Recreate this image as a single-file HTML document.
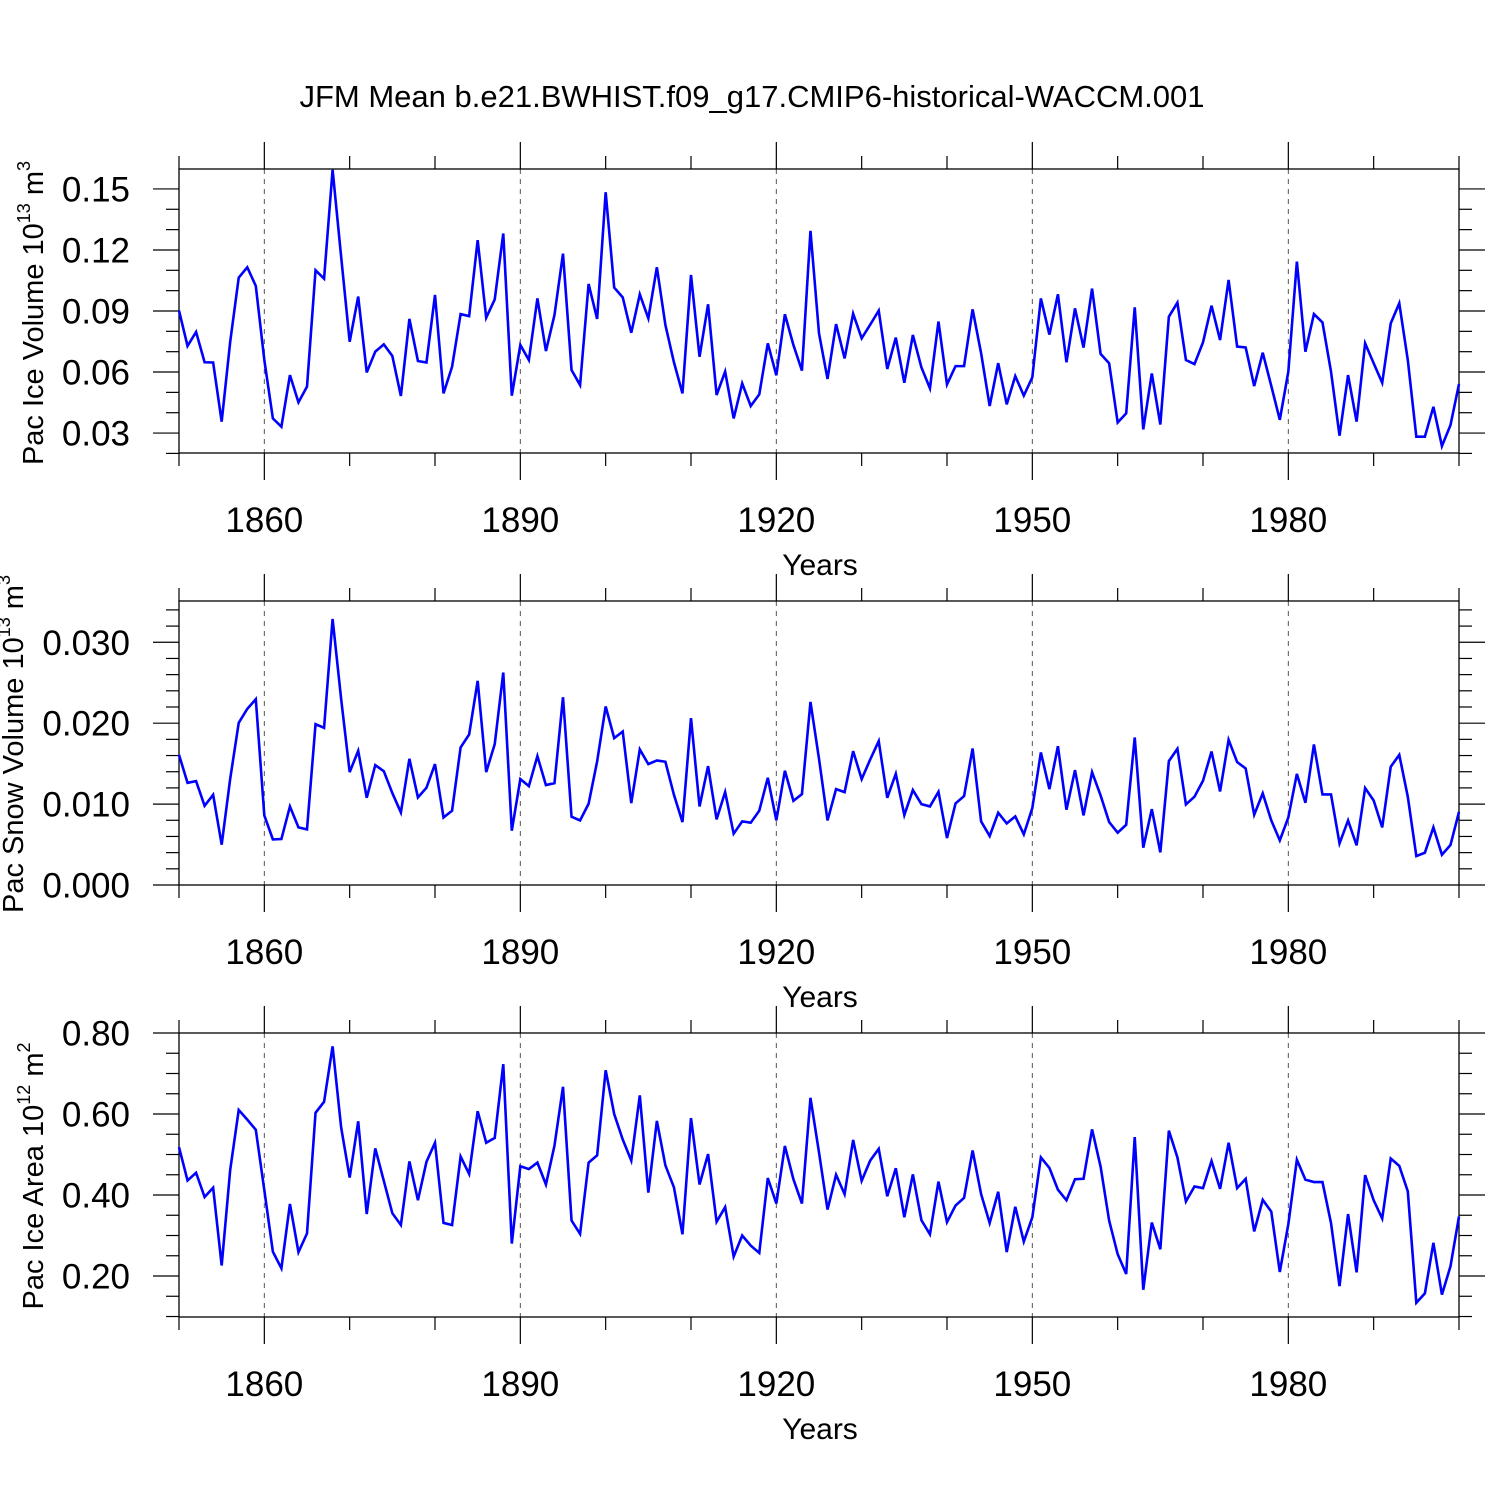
<!DOCTYPE html>
<html><head><meta charset="utf-8"><style>
html,body{margin:0;padding:0;background:#fff;}
svg{display:block;font-family:"Liberation Sans",Arial,sans-serif;}
</style></head><body>
<svg id="chart" width="1500" height="1500" xmlns="http://www.w3.org/2000/svg">
<rect width="1500" height="1500" fill="#fff"/>
<text x="752" y="107" font-size="31" text-anchor="middle">JFM Mean b.e21.BWHIST.f09_g17.CMIP6-historical-WACCM.001</text>
</svg>
<script>
const startYear = 1850;
const xTickLabels = ["1860","1890","1920","1950","1980"];
const iceVolume = [0.0902,0.0728,0.0797,0.0648,0.0647,0.0356,0.0749,0.1064,0.1115,0.1023,0.0659,0.0372,0.0331,0.0585,0.0451,0.0528,0.1100,0.1059,0.1594,0.1167,0.0749,0.0971,0.0598,0.0700,0.0736,0.0679,0.0482,0.0861,0.0654,0.0647,0.0979,0.0495,0.0626,0.0885,0.0875,0.1248,0.0867,0.0957,0.1281,0.0484,0.0733,0.0659,0.0962,0.0703,0.0880,0.1182,0.0610,0.0536,0.1033,0.0861,0.1484,0.1015,0.0967,0.0793,0.0982,0.0864,0.1115,0.0831,0.0648,0.0495,0.1077,0.0675,0.0933,0.0487,0.0602,0.0372,0.0544,0.0433,0.0490,0.0741,0.0584,0.0884,0.0733,0.0607,0.1294,0.0790,0.0566,0.0836,0.0667,0.0887,0.0766,0.0833,0.0902,0.0615,0.0769,0.0547,0.0782,0.0623,0.0520,0.0848,0.0539,0.0629,0.0629,0.0908,0.0692,0.0433,0.0644,0.0441,0.0580,0.0484,0.0574,0.0962,0.0784,0.0982,0.0648,0.0913,0.0720,0.1010,0.0689,0.0643,0.0352,0.0397,0.0918,0.0318,0.0593,0.0342,0.0872,0.0941,0.0659,0.0639,0.0746,0.0926,0.0757,0.1053,0.0725,0.0721,0.0531,0.0695,0.0532,0.0365,0.0602,0.1143,0.0700,0.0885,0.0844,0.0602,0.0287,0.0585,0.0356,0.0741,0.0643,0.0547,0.0839,0.0938,0.0659,0.0282,0.0282,0.0429,0.0236,0.0339,0.0541];
const snowVolume = [0.01609,0.01263,0.01284,0.00979,0.01115,0.00498,0.01313,0.02004,0.02177,0.02296,0.00860,0.00564,0.00568,0.00971,0.00712,0.00687,0.01988,0.01942,0.03288,0.02300,0.01395,0.01658,0.01078,0.01481,0.01407,0.01136,0.00897,0.01560,0.01082,0.01202,0.01494,0.00835,0.00918,0.01700,0.01860,0.02523,0.01395,0.01741,0.02626,0.00671,0.01309,0.01222,0.01593,0.01235,0.01259,0.02321,0.00844,0.00798,0.01004,0.01527,0.02206,0.01815,0.01897,0.01012,0.01675,0.01494,0.01539,0.01523,0.01115,0.00778,0.02062,0.00971,0.01469,0.00811,0.01148,0.00634,0.00786,0.00770,0.00918,0.01325,0.00798,0.01412,0.01041,0.01123,0.02263,0.01560,0.00798,0.01185,0.01148,0.01654,0.01309,0.01551,0.01778,0.01078,0.01374,0.00864,0.01173,0.01000,0.00971,0.01152,0.00580,0.01008,0.01099,0.01687,0.00786,0.00605,0.00893,0.00761,0.00848,0.00626,0.00951,0.01638,0.01185,0.01716,0.00930,0.01420,0.00860,0.01395,0.01107,0.00778,0.00646,0.00745,0.01823,0.00461,0.00938,0.00403,0.01531,0.01683,0.00996,0.01091,0.01288,0.01650,0.01156,0.01794,0.01519,0.01440,0.00868,0.01132,0.00798,0.00551,0.00835,0.01374,0.01016,0.01737,0.01119,0.01119,0.00514,0.00798,0.00490,0.01198,0.01045,0.00712,0.01461,0.01609,0.01091,0.00358,0.00399,0.00712,0.00374,0.00494,0.00905];
const iceArea = [0.518,0.436,0.455,0.395,0.418,0.226,0.462,0.610,0.586,0.561,0.412,0.260,0.219,0.378,0.259,0.305,0.603,0.630,0.767,0.567,0.443,0.582,0.353,0.515,0.435,0.355,0.326,0.483,0.387,0.482,0.529,0.331,0.326,0.495,0.452,0.607,0.529,0.541,0.723,0.280,0.471,0.464,0.480,0.426,0.522,0.667,0.337,0.304,0.480,0.498,0.708,0.600,0.537,0.485,0.646,0.406,0.583,0.473,0.419,0.303,0.590,0.426,0.501,0.334,0.370,0.248,0.300,0.275,0.257,0.442,0.379,0.521,0.439,0.379,0.640,0.505,0.364,0.450,0.402,0.536,0.435,0.485,0.514,0.397,0.466,0.345,0.451,0.338,0.303,0.433,0.333,0.374,0.393,0.510,0.402,0.331,0.408,0.259,0.371,0.285,0.345,0.493,0.467,0.413,0.387,0.439,0.440,0.562,0.470,0.337,0.254,0.205,0.543,0.166,0.332,0.266,0.559,0.493,0.384,0.421,0.417,0.484,0.415,0.529,0.417,0.440,0.310,0.388,0.359,0.210,0.328,0.487,0.438,0.432,0.432,0.331,0.175,0.353,0.209,0.449,0.387,0.342,0.490,0.472,0.409,0.134,0.157,0.282,0.154,0.224,0.347];
const iceVolTicks = ["0.03","0.06","0.09","0.12","0.15"];
const snowTicks = ["0.000","0.010","0.020","0.030"];
const areaTicks = ["0.20","0.40","0.60","0.80"];

const NS = "http://www.w3.org/2000/svg";
const svg = document.getElementById('chart');
const X0 = 179, X1 = 1459, Y0 = 1850, Y1 = 2000;
function xScale(yr){ return X0 + (yr - Y0) * (X1 - X0) / (Y1 - Y0); }
function mk(tag, attrs, parent){ const e = document.createElementNS(NS, tag); for (const k in attrs) e.setAttribute(k, attrs[k]); (parent||svg).appendChild(e); return e; }

function panel(cfg){
  const g = mk('g', {});
  
  
  const top = cfg.top, bot = cfg.top + 284;
  const yS = v => bot - (v - cfg.vmin) * 284 / (cfg.vmax - cfg.vmin);
  for (let yr = 1860; yr <= 1980; yr += 30) {
    const l = mk('line', {x1:xScale(yr), x2:xScale(yr), y1:top, y2:bot, stroke:'#555', 'stroke-width':1, 'stroke-dasharray':'5,5'}, g);
    
    
  }
  for (let yr = 1850; yr <= 2000; yr += 10) {
    const major = (yr - 1860) % 30 === 0 && yr >= 1860 && yr <= 1980;
    const len = major ? 27 : 13;
    const x = xScale(yr);
    mk('line', {x1:x, x2:x, y1:top, y2:top-len, stroke:'#000', 'stroke-width':1.2}, g);
    mk('line', {x1:x, x2:x, y1:bot, y2:bot+len, stroke:'#000', 'stroke-width':1.2}, g);
  }
  for (let v = cfg.minorStart; v <= cfg.vmax + 1e-9; v += cfg.minor) {
    const y = yS(v);
    if (y < top - 0.5 || y > bot + 0.5) continue;
    const isMajor = Math.abs(((v - cfg.majStart) / cfg.major) - Math.round((v - cfg.majStart) / cfg.major)) < 1e-6 && v >= cfg.majStart - 1e-9;
    const len = isMajor ? 26 : 13;
    mk('line', {x1:X0, x2:X0-len, y1:y, y2:y, stroke:'#000', 'stroke-width':1.2}, g);
    mk('line', {x1:X1, x2:X1+len, y1:y, y2:y, stroke:'#000', 'stroke-width':1.2}, g);
  }
  cfg.ticks.forEach(t => {
    const tx = mk('text', {x:130, y:yS(parseFloat(t)) + 12.5, 'font-size':35, 'text-anchor':'end'}, g);
    tx.textContent = t;
    
    
  });
  xTickLabels.forEach(t => {
    const tx = mk('text', {x:xScale(parseFloat(t)), y:bot + 79, 'font-size':35, 'text-anchor':'middle'}, g);
    tx.textContent = t;
    
    
  });
  const xt = mk('text', {x:820, y:bot + 122, 'font-size':30, 'text-anchor':'middle'}, g);
  xt.textContent = 'Years';
  
  
  const cy = top + cfg.ycy;
  const yt = mk('text', {transform:`translate(${cfg.ytx},${cy}) rotate(-90)`, 'font-size':29, 'text-anchor':'middle'}, g);
  yt.innerHTML = cfg.ylabel;
  
  
  const fr = mk('rect', {x:X0, y:top, width:X1-X0, height:284, fill:'none', stroke:'#000', 'stroke-width':1.3}, g);
  
  
  const pts = cfg.data.map((v,i) => xScale(startYear + i).toFixed(2) + ',' + yS(v).toFixed(2)).join(' ');
  const pl = mk('polyline', {points:pts, fill:'none', stroke:'#0000ff', 'stroke-width':2.6, 'stroke-linejoin':'miter'}, g);
  
  
}

panel({name:'ice-volume-panel', series:'ice-volume-line', top:169, vmin:0.0202, vmax:0.1598, data:iceVolume, ticks:iceVolTicks,
  minor:0.01, minorStart:0.02, major:0.03, majStart:0.03, ytx:43, ycy:144,
  ylabel:'Pac Ice Volume 10<tspan dy="-13" font-size="18">13</tspan><tspan dy="13"> m</tspan><tspan dy="-13" font-size="18">3</tspan>'});
panel({name:'snow-volume-panel', series:'snow-volume-line', top:601, vmin:0, vmax:0.0351, data:snowVolume, ticks:snowTicks,
  minor:0.002, minorStart:0, major:0.01, majStart:0, ytx:23, ycy:143,
  ylabel:'Pac Snow Volume 10<tspan dy="-13" font-size="18">13</tspan><tspan dy="13"> m</tspan><tspan dy="-13" font-size="18">3</tspan>'});
panel({name:'ice-area-panel', series:'ice-area-line', top:1033, vmin:0.0988, vmax:0.80, data:iceArea, ticks:areaTicks,
  minor:0.05, minorStart:0.10, major:0.2, majStart:0.2, ytx:43, ycy:143,
  ylabel:'Pac Ice Area 10<tspan dy="-13" font-size="18">12</tspan><tspan dy="13"> m</tspan><tspan dy="-13" font-size="18">2</tspan>'});
</script>
</body></html>
